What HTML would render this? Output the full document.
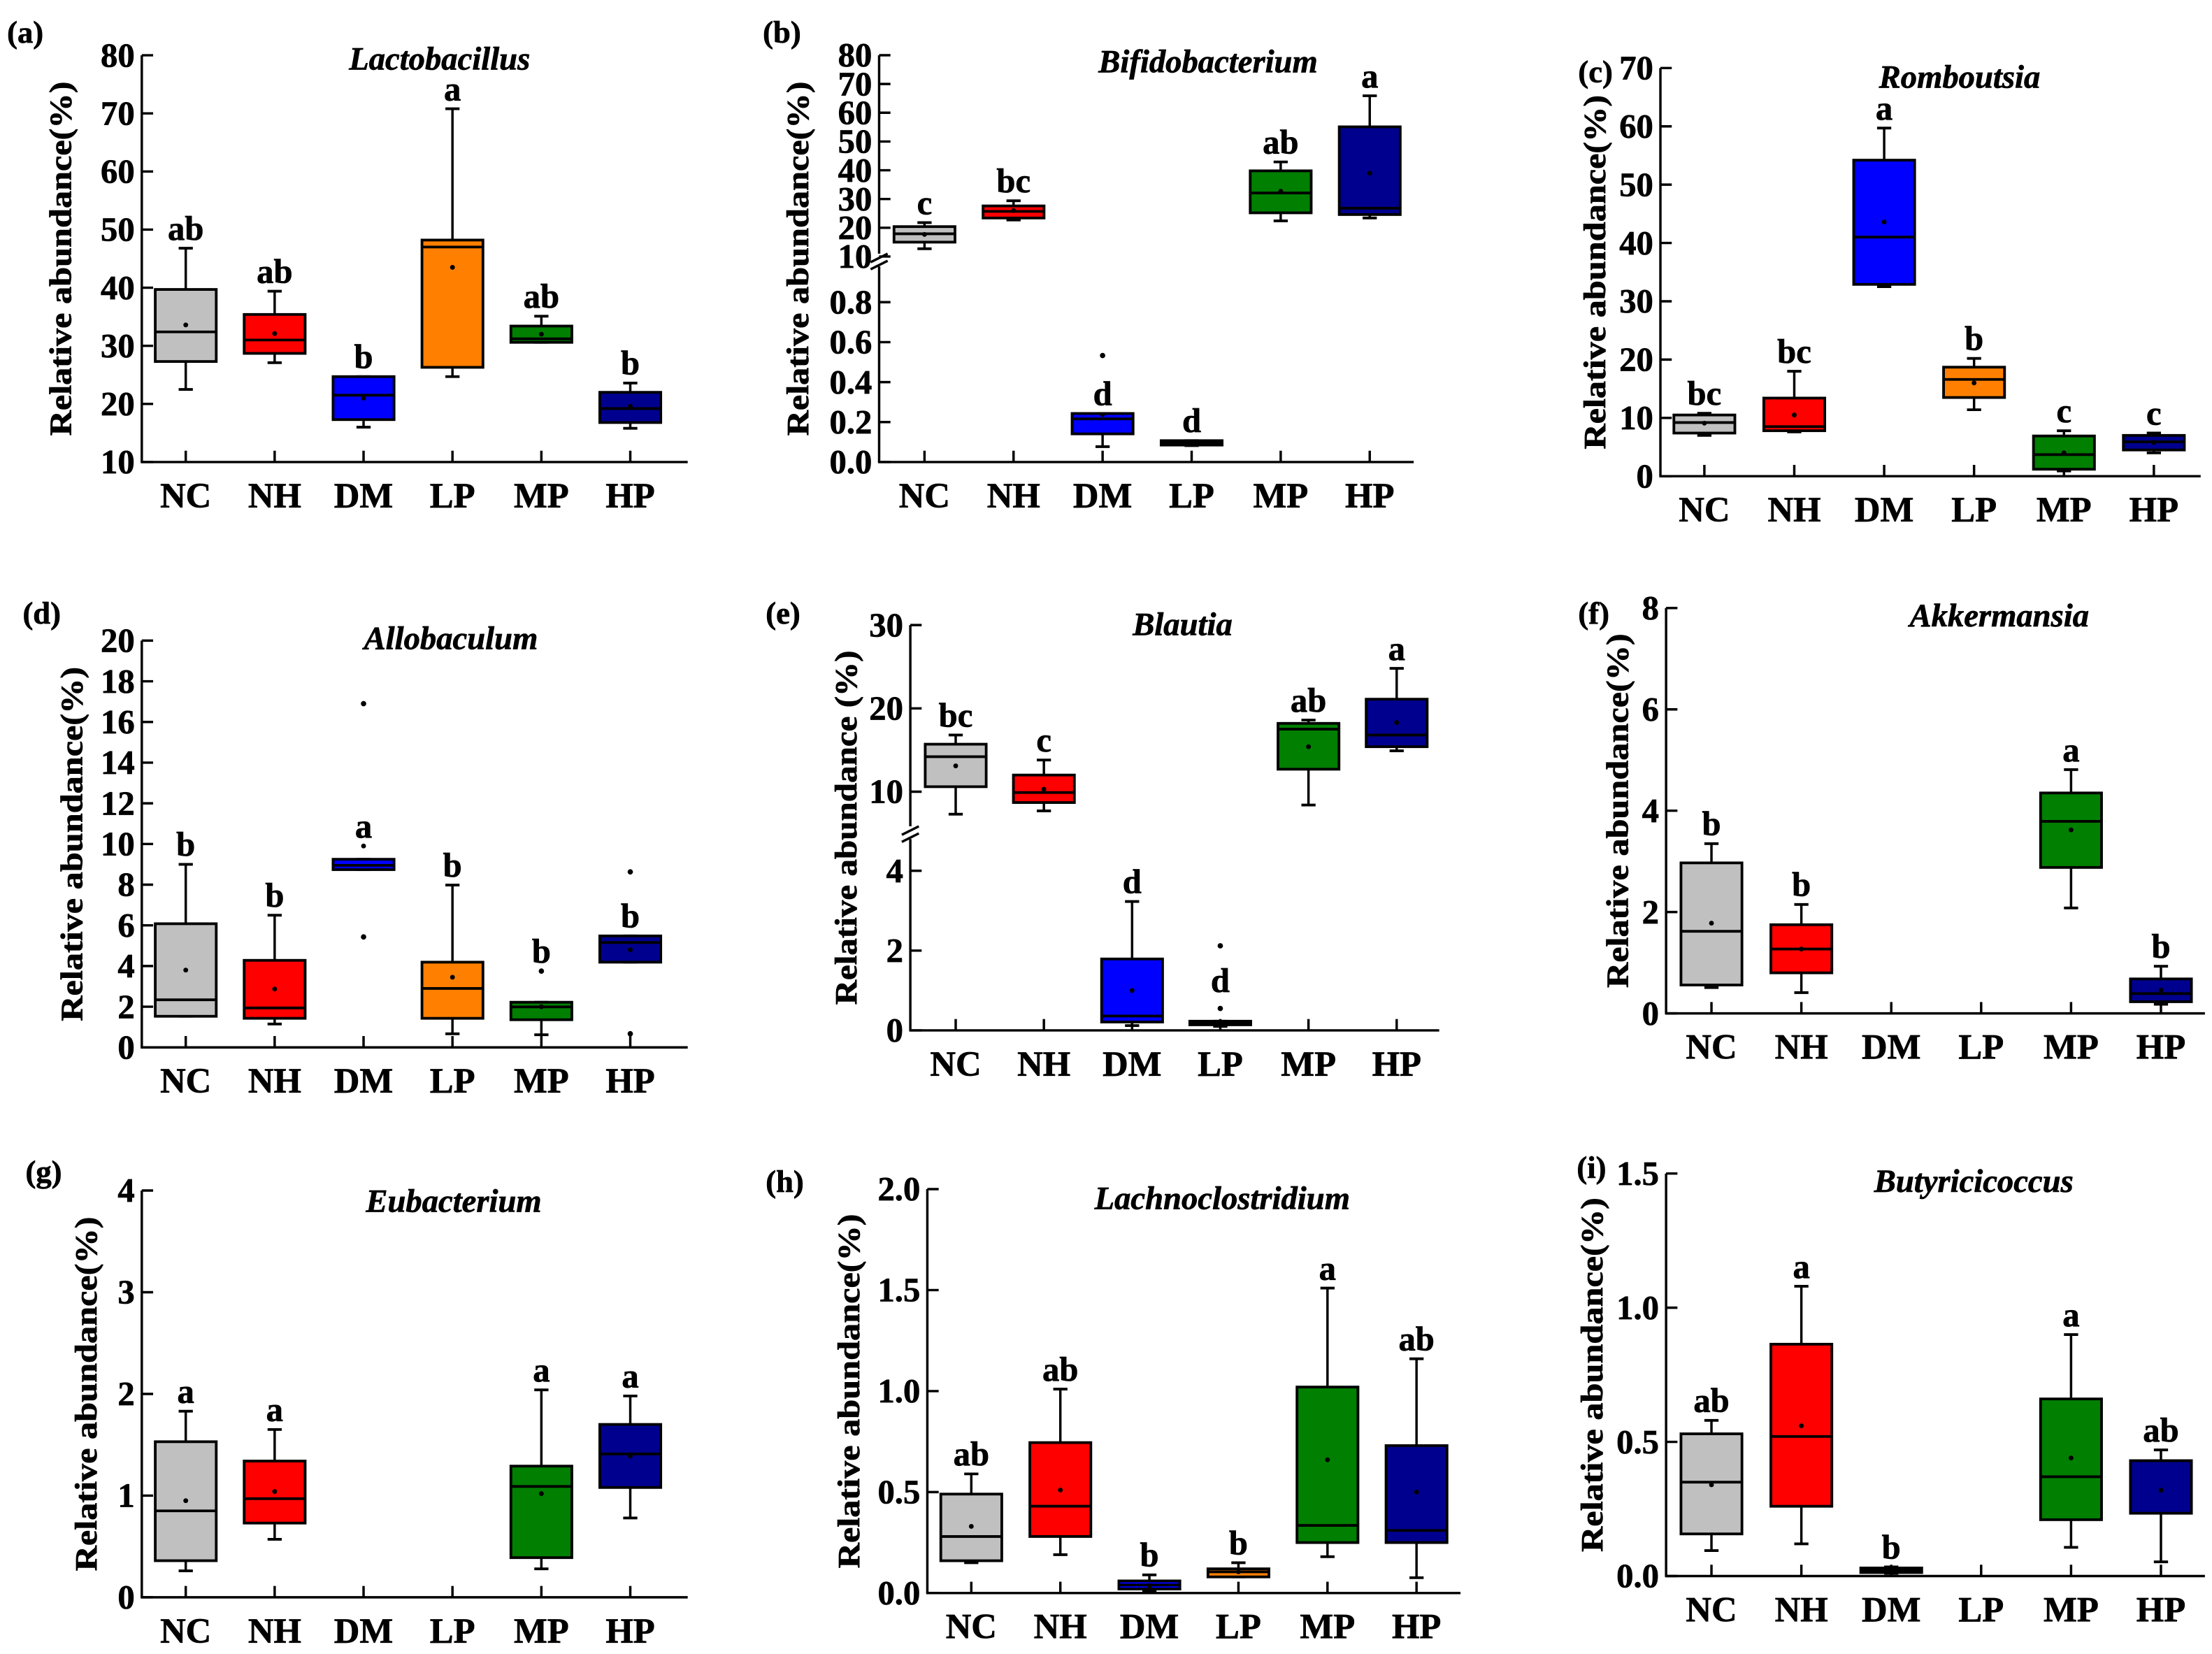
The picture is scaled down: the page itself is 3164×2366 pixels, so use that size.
<!DOCTYPE html>
<html><head><meta charset="utf-8"><style>
html,body{margin:0;padding:0;background:#fff;}
svg{display:block;}
text{font-family:"Liberation Serif",serif;font-weight:bold;fill:#000;stroke:#000;stroke-width:0.35;}
</style></head><body>
<svg id="fig" xmlns="http://www.w3.org/2000/svg" width="3164" height="2366" viewBox="0 0 1560 1167" preserveAspectRatio="none"></svg>
<script>
const categories = ["NC","NH","DM","LP","MP","HP"];
const colors = ["#c0c0c0","#ff0000","#0000ff","#ff8000","#007f00","#00008e"];

// (a) Lactobacillus
const lactoMax=[46.8,39.4,24.7,70.8,35.1,23.6];
const lactoQ3=[39.7,35.4,24.7,48.2,33.4,22.0];
const lactoMed=[32.4,31.0,21.5,47.0,31.2,19.2];
const lactoQ1=[27.3,28.7,17.3,26.3,30.6,16.8];
const lactoMin=[22.5,27.1,16.0,24.7,30.6,15.8];
const lactoMean=[33.6,32.1,21.0,43.5,32.0,19.6];
const lactoOut=[[],[],[],[],[],[]];
const lactoLetters=["ab","ab","b","a","ab","b"];
const lactoTicks=[10,20,30,40,50,60,70,80];

// (b) Bifidobacterium
const bifMax=[21.8,29.4,0.243,0.107,42.9,65.9];
const bifQ3=[20.4,27.6,0.243,0.107,39.8,55.1];
const bifMed=[17.9,25.7,0.216,0.097,32.1,26.8];
const bifQ1=[15.0,23.4,0.141,0.085,25.2,24.6];
const bifMin=[12.7,22.7,0.077,0.082,22.4,23.4];
const bifMean=[17.7,26.0,0.238,0.095,32.7,39.0];
const bifOut=[[],[],[0.533],[],[],[]];
const bifLetters=["c","bc","d","d","ab","a"];
const bifTicksLow=[0,0.2,0.4,0.6,0.8];
const bifTicksHigh=[10,20,30,40,50,60,70,80];

// (c) Romboutsia
const romMax=[10.8,18.0,59.7,20.2,7.8,7.4];
const romQ3=[10.5,13.4,54.2,18.7,6.9,7.0];
const romMed=[9.2,8.5,41.0,16.6,3.7,5.9];
const romQ1=[7.4,7.8,32.9,13.5,1.2,4.5];
const romMin=[7.0,7.6,32.5,11.4,0.9,4.0];
const romMean=[9.1,10.5,43.6,16.0,4.0,5.8];
const romOut=[[],[],[],[],[],[]];
const romLetters=["bc","bc","a","b","c","c"];
const romTicks=[0,10,20,30,40,50,60,70];

// (d) Allobaculum
const alloMax=[9.0,6.5,9.25,7.98,2.22,5.48];
const alloQ3=[6.08,4.28,9.25,4.19,2.22,5.48];
const alloMed=[2.34,1.94,8.95,2.9,1.99,5.16];
const alloQ1=[1.53,1.43,8.74,1.43,1.36,4.19];
const alloMin=[1.53,1.15,8.74,0.67,0.62,4.19];
const alloMean=[3.8,2.87,9.9,3.45,2.0,4.8];
const alloOut=[[],[],[16.9,5.43],[],[3.75],[8.63,0.67]];
const alloLetters=["b","b","a","b","b","b"];
const alloLetterAnchor=[null,null,null,null,3.75,null];
const alloTicks=[0,2,4,6,8,10,12,14,16,18,20];

// (e) Blautia
const blaMax=[16.8,13.8,3.23,0.23,18.6,24.8];
const blaQ3=[15.7,12.0,1.79,0.23,18.2,21.1];
const blaMed=[14.2,9.9,0.36,0.18,17.5,16.8];
const blaQ1=[10.6,8.7,0.21,0.14,12.7,15.4];
const blaMin=[7.3,7.7,0.12,0.10,8.4,14.9];
const blaMean=[13.1,10.3,1.0,0.15,15.4,18.3];
const blaOut=[[],[],[],[2.12,0.55],[],[]];
const blaLetters=["bc","c","d","d","ab","a"];
const blaLetterAnchor=[null,null,null,0.75,null,null];
const blaTicksLow=[0,2,4];
const blaTicksHigh=[10,20,30];

// (f) Akkermansia
const akkMax=[3.35,2.15,null,null,4.81,0.93];
const akkQ3=[2.97,1.75,null,null,4.35,0.68];
const akkMed=[1.62,1.27,null,null,3.79,0.39];
const akkQ1=[0.56,0.80,null,null,2.88,0.23];
const akkMin=[0.51,0.41,null,null,2.08,0.18];
const akkMean=[1.78,1.27,null,null,3.62,0.46];
const akkOut=[[],[],[],[],[],[]];
const akkLetters=["b","b","","","a","b"];
const akkTicks=[0,2,4,6,8];

// (g) Eubacterium
const eubMax=[1.83,1.65,null,null,2.04,1.98];
const eubQ3=[1.53,1.34,null,null,1.29,1.70];
const eubMed=[0.85,0.97,null,null,1.09,1.41];
const eubQ1=[0.36,0.73,null,null,0.39,1.08];
const eubMin=[0.26,0.57,null,null,0.28,0.78];
const eubMean=[0.95,1.04,null,null,1.02,1.39];
const eubOut=[[],[],[],[],[],[]];
const eubLetters=["a","a","","","a","a"];
const eubTicks=[0,1,2,3,4];

// (h) Lachnoclostridium
const lacMax=[0.59,1.01,0.09,0.15,1.51,1.16];
const lacQ3=[0.49,0.745,0.06,0.12,1.02,0.73];
const lacMed=[0.28,0.43,0.04,0.105,0.335,0.31];
const lacQ1=[0.16,0.28,0.02,0.08,0.25,0.25];
const lacMin=[0.15,0.19,0.01,0.08,0.18,0.076];
const lacMean=[0.33,0.51,0.037,0.105,0.66,0.50];
const lacOut=[[],[],[],[],[],[]];
const lacLetters=["ab","ab","b","b","a","ab"];
const lacTicks=[0,0.5,1.0,1.5,2.0];

// (i) Butyricicoccus
const butMax=[0.58,1.08,0.034,null,0.90,0.47];
const butQ3=[0.53,0.864,0.03,null,0.66,0.43];
const butMed=[0.35,0.52,0.021,null,0.37,0.43];
const butQ1=[0.157,0.26,0.013,null,0.21,0.234];
const butMin=[0.095,0.12,0.01,null,0.107,0.053];
const butMean=[0.34,0.56,0.021,null,0.44,0.32];
const butOut=[[],[],[],[],[],[]];
const butLetters=["ab","a","b","","a","ab"];
const butTicks=[0,0.5,1.0,1.5];

const NS="http://www.w3.org/2000/svg";
const svg=document.getElementById("fig");
function mk(tag,attrs,parent){const e=document.createElementNS(NS,tag);for(const k in attrs)e.setAttribute(k,attrs[k]);(parent||svg).appendChild(e);return e;}
function linScale(v0,y0,v1,y1){return v=>y0+(v-v0)*(y1-y0)/(v1-v0);}

const panels=[
 {key:"a",label:"(a)",lx:5,ly:30,title:"Lactobacillus",tx:310,ty:49,x0:100,xEnd:485,cx0:131,dx:62.7,ytx:50,
  yTop:39,yBot:326,scale:linScale(10,326,80,39),ticks:lactoTicks,fmt:v=>String(v),
  max:lactoMax,q3:lactoQ3,med:lactoMed,q1:lactoQ1,min:lactoMin,mean:lactoMean,out:lactoOut,letters:lactoLetters},
 {key:"b",label:"(b)",lx:538,ly:30,title:"Bifidobacterium",tx:852,ty:51,x0:620,xEnd:997,cx0:652,dx:62.8,ytx:570,
  yTop:39,yBot:326,broken:183,
  scale:v=>v<1?326-v/0.2*28.2:181-(v-10)/10*20.29,
  ticks:bifTicksLow.concat(bifTicksHigh),fmt:v=>v<1?v.toFixed(1):String(v),
  max:bifMax,q3:bifQ3,med:bifMed,q1:bifQ1,min:bifMin,mean:bifMean,out:bifOut,letters:bifLetters},
 {key:"c",label:"(c)",lx:1113,ly:58,title:"Romboutsia",tx:1382,ty:62,x0:1171,xEnd:1552,cx0:1202,dx:63.4,ytx:1132,
  yTop:48,yBot:336,scale:linScale(0,336,70,48),ticks:romTicks,fmt:v=>String(v),
  max:romMax,q3:romQ3,med:romMed,q1:romQ1,min:romMin,mean:romMean,out:romOut,letters:romLetters},
 {key:"d",label:"(d)",lx:16,ly:440,title:"Allobaculum",tx:318,ty:458,x0:100,xEnd:485,cx0:131,dx:62.7,ytx:58,
  yTop:452,yBot:739,scale:linScale(0,739,20,452),ticks:alloTicks,fmt:v=>String(v),
  max:alloMax,q3:alloQ3,med:alloMed,q1:alloQ1,min:alloMin,mean:alloMean,out:alloOut,letters:alloLetters,anchor:alloLetterAnchor},
 {key:"e",label:"(e)",lx:540,ly:440,title:"Blautia",tx:834,ty:448,x0:642,xEnd:1015,cx0:674,dx:62.2,ytx:604,
  yTop:441,yBot:727,broken:587,
  scale:v=>v<6?727-v/2*56.3:558.6-(v-10)/10*58.8,
  ticks:blaTicksLow.concat(blaTicksHigh),fmt:v=>String(v),
  max:blaMax,q3:blaQ3,med:blaMed,q1:blaQ1,min:blaMin,mean:blaMean,out:blaOut,letters:blaLetters,anchor:blaLetterAnchor},
 {key:"f",label:"(f)",lx:1113,ly:440,title:"Akkermansia",tx:1410,ty:442,x0:1175,xEnd:1555,cx0:1207,dx:63.4,ytx:1148,
  yTop:429,yBot:715,scale:linScale(0,715,8,429),ticks:akkTicks,fmt:v=>String(v),
  max:akkMax,q3:akkQ3,med:akkMed,q1:akkQ1,min:akkMin,mean:akkMean,out:akkOut,letters:akkLetters},
 {key:"g",label:"(g)",lx:18,ly:834,title:"Eubacterium",tx:320,ty:855,x0:100,xEnd:485,cx0:131,dx:62.7,ytx:68,
  yTop:840,yBot:1127,scale:linScale(0,1127,4,840),ticks:eubTicks,fmt:v=>String(v),
  max:eubMax,q3:eubQ3,med:eubMed,q1:eubQ1,min:eubMin,mean:eubMean,out:eubOut,letters:eubLetters},
 {key:"h",label:"(h)",lx:540,ly:841,title:"Lachnoclostridium",tx:862,ty:853,x0:654,xEnd:1030,cx0:685,dx:62.8,ytx:606,
  yTop:839,yBot:1124,scale:linScale(0,1124,2,839),ticks:lacTicks,fmt:v=>v.toFixed(1),
  max:lacMax,q3:lacQ3,med:lacMed,q1:lacQ1,min:lacMin,mean:lacMean,out:lacOut,letters:lacLetters},
 {key:"i",label:"(i)",lx:1112,ly:831,title:"Butyricicoccus",tx:1392,ty:841,x0:1175,xEnd:1555,cx0:1207,dx:63.4,ytx:1130,
  yTop:828,yBot:1112,scale:linScale(0,1112,1.5,828),ticks:butTicks,fmt:v=>v.toFixed(1),
  max:butMax,q3:butQ3,med:butMed,q1:butQ1,min:butMin,mean:butMean,out:butOut,letters:butLetters}
];

panels.forEach(p=>{
  const g=mk("g",{});
  
  
  const lab=mk("text",{x:p.lx,y:p.ly,"font-size":22},g);lab.textContent=p.label;
  
  
  const t=mk("text",{x:p.tx,y:p.ty,"font-size":23,"font-style":"italic","text-anchor":"middle"},g);t.textContent=p.title;
  
  
  const ymid=(p.yTop+p.yBot)/2;
  const yt=mk("text",{x:0,y:0,"font-size":22,"text-anchor":"middle",textLength:250,lengthAdjust:"spacingAndGlyphs",transform:`translate(${p.ytx},${ymid}) rotate(-90)`},g);
  yt.textContent=p.key==="e"?"Relative abundance (%)":"Relative abundance(%)";
  
  
  const ax=mk("g",{stroke:"#000","stroke-width":1.7,fill:"none"},g);
  
  
  if(p.broken){
    mk("line",{x1:p.x0,y1:p.yBot,x2:p.x0,y2:p.broken+5},ax);
    mk("line",{x1:p.x0,y1:p.broken-4,x2:p.x0,y2:p.yTop},ax);
    mk("line",{x1:p.x0-6,y1:p.broken+2,x2:p.x0+6,y2:p.broken-4},ax);
    mk("line",{x1:p.x0-6,y1:p.broken+7,x2:p.x0+6,y2:p.broken+1},ax);
  } else {
    mk("line",{x1:p.x0,y1:p.yBot,x2:p.x0,y2:p.yTop},ax);
  }
  mk("line",{x1:p.x0-0.8,y1:p.yBot,x2:p.xEnd,y2:p.yBot},ax);
  p.ticks.forEach(v=>{
    const y=p.scale(v);
    mk("line",{x1:p.x0,y1:y,x2:p.x0+8,y2:y},ax);
    const tl=mk("text",{x:p.x0-5,y:y+8,"font-size":24,"text-anchor":"end"},g);tl.textContent=p.fmt(v);
    
    
  });
  categories.forEach((c,i)=>{
    const cx=p.cx0+i*p.dx;
    mk("line",{x1:cx,y1:p.yBot,x2:cx,y2:p.yBot-8},ax);
    const cl=mk("text",{x:cx,y:p.yBot+32,"font-size":25,"text-anchor":"middle"},g);cl.textContent=c;
    
    
    if(p.q3[i]==null) return;
    const bg=mk("g",{},g);
    
    
    const hw=21.5,cw=5;
    const yMax=p.scale(p.max[i]),yQ3=p.scale(p.q3[i]),yMed=p.scale(p.med[i]),yQ1=p.scale(p.q1[i]),yMin=p.scale(p.min[i]);
    mk("line",{x1:cx,y1:yMax,x2:cx,y2:yMin,stroke:"#000","stroke-width":1.7},bg);
    mk("line",{x1:cx-cw,y1:yMax,x2:cx+cw,y2:yMax,stroke:"#000","stroke-width":1.9},bg);
    mk("line",{x1:cx-cw,y1:yMin,x2:cx+cw,y2:yMin,stroke:"#000","stroke-width":1.9},bg);
    mk("rect",{x:cx-hw,y:yQ3,width:2*hw,height:Math.max(yQ1-yQ3,2.5),fill:colors[i],stroke:"#000","stroke-width":1.9},bg);
    mk("line",{x1:cx-hw,y1:yMed,x2:cx+hw,y2:yMed,stroke:"#000","stroke-width":1.9},bg);
    mk("circle",{cx:cx,cy:p.scale(p.mean[i]),r:1.7,fill:"#000"},bg);
    p.out[i].forEach(o=>mk("circle",{cx:cx,cy:p.scale(o),r:1.9,fill:"#000"},bg));
    let anchor=Math.max(p.max[i],p.mean[i]);
    if(p.anchor&&p.anchor[i]!=null) anchor=p.anchor[i];
    const lt=mk("text",{x:cx,y:p.scale(anchor)-6,"font-size":24,"text-anchor":"middle"},g);lt.textContent=p.letters[i];
    
    
  });
});
</script>
</body></html>
